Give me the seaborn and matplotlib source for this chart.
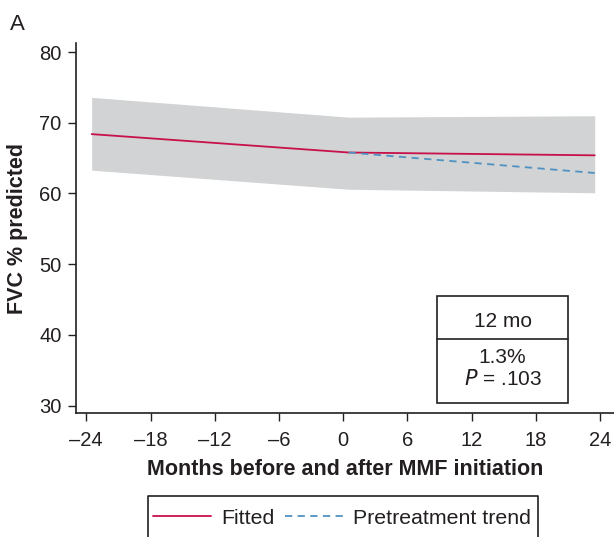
import pandas as pd
import numpy as np
import seaborn as sns
import matplotlib.pyplot as plt
from matplotlib.patches import Rectangle
from matplotlib.lines import Line2D

# values
months = [-23.5, 0.5, 23.5]
fitted = [68.4, 65.8, 65.4]
ci_low = [63.3, 60.6, 60.1]
ci_high = [73.6, 70.8, 71.0]
trend_months = [0.5, 23.5]
trend = [65.8, 62.9]
x_ticks = [-24, -18, -12, -6, 0, 6, 12, 18, 24]
x_tick_labels = ['\u201324', '\u201318', '\u201312', '\u20136', '0', '6', '12', '18', '24']
y_ticks = [30, 40, 50, 60, 70, 80]

fit_df = pd.DataFrame({'month': months, 'fvc': fitted})
trend_df = pd.DataFrame({'month': trend_months, 'fvc': trend})

sns.set_style('ticks')
plt.rcParams['font.family'] = ['Liberation Sans', 'DejaVu Sans']
ink = '#231f20'

fig = plt.figure(figsize=(6.14, 5.37), dpi=100)
ax = fig.add_axes([0.124, 0.2304, 0.876, 0.6896])

ax.fill_between(months, ci_low, ci_high, color='#d1d3d4', linewidth=0)
sns.lineplot(data=fit_df, x='month', y='fvc', ax=ax, color='#c8104a', lw=1.3, label='Fitted')
sns.lineplot(data=trend_df, x='month', y='fvc', ax=ax, color='#4f92c2', lw=1.3,
             dashes=False, label='Pretreatment trend')
ax.lines[-1].set_dashes((4, 3))

ax.set_xlim(-24.95, 25.3)
ax.set_ylim(28.9, 81.3)
ax.set_xticks(x_ticks)
ax.set_xticklabels(x_tick_labels)
ax.set_yticks(y_ticks)
ax.tick_params(axis='both', labelsize=14.5, colors=ink, length=6, width=1)
ax.tick_params(axis='x', pad=6.5)
ax.tick_params(axis='y', pad=4.5)
for s in ['top', 'right']:
    ax.spines[s].set_visible(False)
for s in ['left', 'bottom']:
    ax.spines[s].set_color(ink)
    ax.spines[s].set_linewidth(1.2)

ax.set_xlabel('Months before and after MMF initiation', fontsize=15.5, fontweight='bold', color=ink)
ax.set_ylabel('FVC % predicted', fontsize=15.5, fontweight='bold', color=ink)
ax.xaxis.label.set_verticalalignment('center')
ax.yaxis.label.set_verticalalignment('center')
ax.xaxis.set_label_coords(0.5, -0.153)
ax.yaxis.set_label_coords(-0.1097, 0.5)

# 12 mo summary box
ax.add_patch(Rectangle((8.8, 30.4), 12.2, 15.1, fill=False, edgecolor=ink, lw=1.2, clip_on=False))
ax.plot([8.8, 21.0], [39.4, 39.4], color=ink, lw=1.2)
ax.text(14.9, 41.9, '12 mo', ha='center', va='center', fontsize=15, color=ink)
ax.text(14.9, 36.8, '1.3%', ha='center', va='center', fontsize=15, color=ink)
ax.text(14.9, 33.7, '$P$ = .103', ha='center', va='center', fontsize=15, color=ink)

fig.text(0.016, 1 - 30 / 537, 'A', fontsize=16, color=ink, va='baseline')

ax.get_legend().remove()
handles, labels = ax.get_legend_handles_labels()
leg = fig.legend(handles, labels, loc='center left', bbox_to_anchor=(153 / 614, 1 - 518 / 537),
                 ncol=2, frameon=False, fontsize=15.3, handlelength=2.75,
                 handletextpad=0.47, columnspacing=0.47, borderpad=0, borderaxespad=0)
for t in leg.get_texts():
    t.set_color(ink)
# legend frame runs off the bottom of the figure
x0, x1, y_top = 148 / 614, 538 / 614, 1 - 496 / 537
fig.add_artist(Line2D([x0, x0, x1, x1], [-0.01, y_top, y_top, -0.01], color=ink, lw=1.2))

fig.savefig('out.png', dpi=100)
